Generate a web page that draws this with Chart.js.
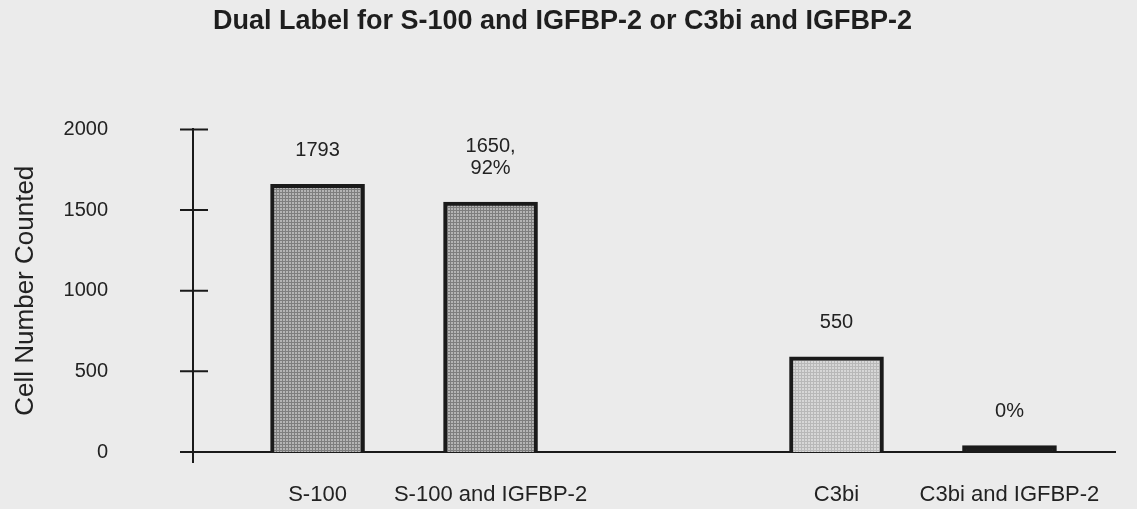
<!DOCTYPE html>
<html>
<head>
<meta charset="utf-8">
<script src="https://cdn.jsdelivr.net/npm/chart.js@4/dist/chart.umd.min.js"></script>
<style>
  html, body { margin: 0; padding: 0; background: #ebebeb; }
  #wrap { position: relative; width: 1137px; height: 509px; }
</style>
</head>
<body>
<div id="wrap"><canvas id="chart"></canvas></div>
<script>
// data
const categories = ['S-100', 'S-100 and IGFBP-2', 'C3bi', 'C3bi and IGFBP-2'];
const slotIndex = [0, 1, 3, 4];            // one empty slot between the two pairs
const cellCounts = [1660, 1550, 590, 40];  // bar heights as drawn
const barLabels = [['1793'], ['1650,', '92%'], ['550'], ['0%']];
const yTicks = [0, 500, 1000, 1500, 2000];

const ink = '#1a1a1a';
const font = 'Arial, "Liberation Sans", sans-serif';

// little cross-hatch tile like the printed fill
function makePattern(base, line) {
    const c = document.createElement('canvas');
    c.width = 3;
    c.height = 3;
    const g = c.getContext('2d');
    g.fillStyle = base;
    g.fillRect(0, 0, 3, 3);
    g.fillStyle = line;
    g.fillRect(0, 0, 3, 1);
    g.fillRect(0, 0, 1, 3);
    return g.createPattern(c, 'repeat');
}

const darkFill = makePattern('#b4b4b4', '#7e7e7e');
const lightFill = makePattern('#d7d7d7', '#b8b8b8');

// crossing tick marks on the y axis + axis stub under the baseline
const axisMarks = {
    id: 'axisMarks',
    afterDraw(chart) {
        const ctx = chart.ctx;
        const y = chart.scales.y;
        const x0 = chart.chartArea.left;
        ctx.save();
        ctx.strokeStyle = ink;
        ctx.lineWidth = 2;
        ctx.beginPath();
        y.ticks.forEach(t => {
            const py = y.getPixelForValue(t.value);
            ctx.moveTo(x0 - 13, py);
            ctx.lineTo(x0 + 15, py);
        });
        ctx.moveTo(x0, chart.chartArea.bottom);
        ctx.lineTo(x0, chart.chartArea.bottom + 11);
        ctx.stroke();
        ctx.restore();
    }
};

// value labels above the bars
const valueLabels = {
    id: 'valueLabels',
    afterDatasetsDraw(chart) {
        const ctx = chart.ctx;
        const meta = chart.getDatasetMeta(0);
        ctx.save();
        ctx.fillStyle = '#222';
        ctx.font = '20px ' + font;
        ctx.textAlign = 'center';
        ctx.textBaseline = 'middle';
        meta.data.forEach((bar, i) => {
            const lines = barLabels[i];
            lines.forEach((txt, j) => {
                const py = bar.y - 34 - (lines.length - 1 - j) * 22;
                ctx.fillText(txt, bar.x, py);
            });
        });
        ctx.restore();
    }
};

const ctx = document.getElementById('chart').getContext('2d');
const chart = new Chart(ctx, {
    type: 'bar',
    data: {
        datasets: [{
            data: slotIndex.map((x, i) => ({ x: x, y: cellCounts[i] })),
            backgroundColor: [darkFill, darkFill, lightFill, '#1c1c1c'],
            borderColor: ink,
            borderWidth: 4,
            barThickness: 94
        }]
    },
    options: {
        responsive: true,
        maintainAspectRatio: false,
        animation: false,
        layout: { padding: { left: 10, right: 22, top: 0, bottom: 0 } },
        plugins: {
            legend: { display: false },
            tooltip: { enabled: false },
            title: {
                display: true,
                text: 'Dual Label for S-100 and IGFBP-2 or C3bi and IGFBP-2',
                color: '#1e1e1e',
                font: { family: font, size: 27, weight: 'bold' },
                padding: { top: 5, bottom: 92 }
            }
        },
        scales: {
            x: {
                type: 'linear',
                offset: false,
                min: -0.72,
                max: 4.61,
                grid: { display: false, drawTicks: false },
                border: { display: true, color: ink, width: 2 },
                afterBuildTicks: scale => {
                    scale.ticks = slotIndex.map(v => ({ value: v }));
                },
                afterFit: scale => { scale.height = 57; },
                ticks: {
                    autoSkip: false,
                    maxRotation: 0,
                    padding: 30,
                    color: '#222',
                    font: { family: font, size: 22 },
                    callback: (value, index) => categories[index]
                }
            },
            y: {
                min: 0,
                max: 2000,
                grid: { display: false, drawTicks: false },
                border: { display: true, color: ink, width: 2 },
                afterBuildTicks: scale => {
                    scale.ticks = yTicks.map(v => ({ value: v }));
                },
                afterFit: scale => {
                    scale.width = 183;
                    // the big label gap would otherwise eat into the plot height
                    scale.paddingTop = 12;
                    scale.paddingBottom = 12;
                },
                ticks: {
                    padding: 85,
                    color: '#222',
                    font: { family: font, size: 20 },
                    callback: v => String(v)
                },
                title: {
                    display: true,
                    text: 'Cell Number Counted',
                    color: '#222',
                    font: { family: font, size: 26 },
                    padding: { top: 0, bottom: 0 }
                }
            }
        }
    },
    plugins: [axisMarks, valueLabels]
});
</script>
</body>
</html>
